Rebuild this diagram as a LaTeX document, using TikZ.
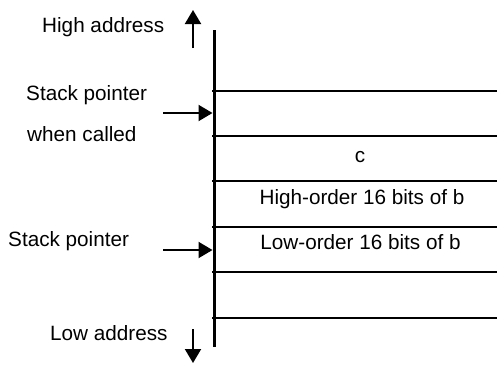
\documentclass[tikz,border=0pt]{standalone}
\usepackage{fontspec}
\setmainfont{Liberation Sans}
\usetikzlibrary{arrows.meta}
\begin{document}
\begin{tikzpicture}[x=1bp,y=-1bp,
  lbl/.style={font=\fontsize{20.7bp}{24bp}\selectfont, inner sep=0pt},
  cell/.style={line width=2bp},
  arr/.style={line width=2bp,-{Triangle[length=14bp,width=16bp]}}]
\useasboundingbox (0,0) rectangle (497,365);
% stack axis
\coordinate (top) at (214,30);
\coordinate (bot) at (214,347);
\draw[line width=3bp] (top) -- (bot);
% cell boundaries
\foreach \y [count=\i] in {91,136,181,227,272,318} {
  \coordinate (l\i) at (212,\y);
  \coordinate (r\i) at (497,\y);
  \draw[cell] (l\i) -- (r\i);
}
% labels
\node[lbl,anchor=base west] (high) at (42,32) {High address};
\node[lbl,anchor=base west] (sp1) at (26,100.6) {Stack pointer};
\node[lbl,anchor=base west] (wc) at (27,141.7) {when called};
\node[lbl,anchor=base west] (sp2) at (8,246.7) {Stack pointer};
\node[lbl,anchor=base west] (low) at (50,340.7) {Low address};
\node[lbl,anchor=base] (cc) at (360,162.7) {c};
\node[lbl,anchor=base] (hb) at (362,204) {High-order 16 bits of b};
\node[lbl,anchor=base] (lb) at (360.5,249) {Low-order 16 bits of b};
% arrows
\coordinate (ha1) at (193,48);  \coordinate (ha2) at (193,10);
\coordinate (s1a) at (163,113); \coordinate (s1b) at (212.5,113);
\coordinate (s2a) at (163,250); \coordinate (s2b) at (212.5,250);
\coordinate (la1) at (193,329); \coordinate (la2) at (193,363);
\draw[arr] (ha1) -- (ha2);
\draw[arr] (s1a) -- (s1b);
\draw[arr] (s2a) -- (s2b);
\draw[arr] (la1) -- (la2);
\end{tikzpicture}
\end{document}
